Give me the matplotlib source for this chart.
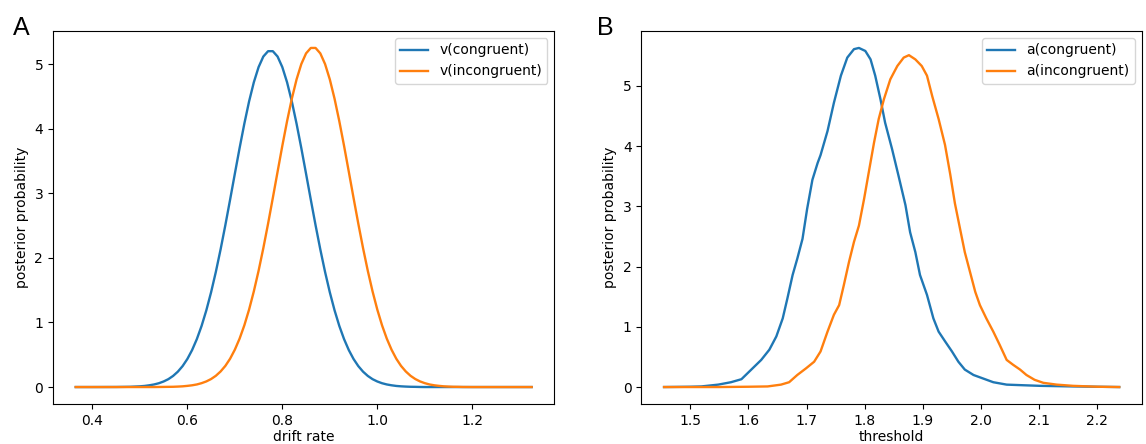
import matplotlib
matplotlib.use('Agg')
import matplotlib.pyplot as plt

# panel A: drift rate posteriors
drift_x = [0.365, 0.40, 0.45, 0.48,
           0.50, 0.51, 0.52, 0.53, 0.54, 0.55, 0.56, 0.57, 0.58, 0.59,
           0.60, 0.61, 0.62, 0.63, 0.64, 0.65, 0.66, 0.67, 0.68, 0.69,
           0.70, 0.71, 0.72, 0.73, 0.74, 0.75, 0.76, 0.77, 0.78, 0.79,
           0.80, 0.81, 0.82, 0.83, 0.84, 0.85, 0.86, 0.87, 0.88, 0.89,
           0.90, 0.91, 0.92, 0.93, 0.94, 0.95, 0.96, 0.97, 0.98, 0.99,
           1.00, 1.01, 1.02, 1.03, 1.04, 1.05, 1.06, 1.07, 1.08, 1.09,
           1.10, 1.11, 1.12, 1.13, 1.14, 1.15, 1.16, 1.17, 1.18,
           1.20, 1.25, 1.325]
v_congruent = [0.0, 0.0, 0.001, 0.004,
               0.011, 0.017, 0.027, 0.040, 0.059, 0.086, 0.122, 0.172, 0.238, 0.324,
               0.434, 0.572, 0.742, 0.946, 1.188, 1.467, 1.782, 2.130, 2.505, 2.899,
               3.301, 3.698, 4.076, 4.421, 4.717, 4.952, 5.116, 5.199, 5.199, 5.116,
               4.952, 4.717, 4.421, 4.076, 3.698, 3.301, 2.899, 2.505, 2.130, 1.782,
               1.467, 1.188, 0.946, 0.742, 0.572, 0.434, 0.324, 0.238, 0.172, 0.122,
               0.086, 0.059, 0.040, 0.027, 0.017, 0.011, 0.007, 0.004, 0.003, 0.001,
               0.0, 0.0, 0.0, 0.0, 0.0, 0.0, 0.0, 0.0, 0.0,
               0.0, 0.0, 0.0]
v_incongruent = [0.0, 0.0, 0.0, 0.0,
                 0.0, 0.0, 0.0, 0.0, 0.001, 0.002, 0.003, 0.004, 0.007, 0.011,
                 0.018, 0.027, 0.040, 0.060, 0.087, 0.124, 0.174, 0.241, 0.327, 0.438,
                 0.578, 0.749, 0.955, 1.199, 1.481, 1.799, 2.150, 2.529, 2.927, 3.332,
                 3.734, 4.115, 4.463, 4.762, 5.000, 5.165, 5.249, 5.249, 5.165, 5.000,
                 4.762, 4.463, 4.115, 3.734, 3.332, 2.927, 2.529, 2.150, 1.799, 1.481,
                 1.199, 0.955, 0.749, 0.578, 0.438, 0.327, 0.241, 0.174, 0.124, 0.087,
                 0.060, 0.040, 0.027, 0.018, 0.011, 0.007, 0.004, 0.003, 0.001,
                 0.0, 0.0, 0.0]

# panel B: threshold posteriors
a_cong_x = [1.455, 1.50, 1.519, 1.548, 1.570, 1.588, 1.605, 1.622, 1.636, 1.648,
            1.659, 1.667, 1.676, 1.684, 1.693, 1.701, 1.710, 1.719, 1.724, 1.736,
            1.747, 1.759, 1.770, 1.7815, 1.790, 1.801, 1.810, 1.818, 1.827, 1.835,
            1.847, 1.858, 1.870, 1.878, 1.887, 1.895, 1.907, 1.918, 1.927, 1.938,
            1.950, 1.961, 1.972, 1.987, 2.004, 2.021, 2.044, 2.072, 2.101, 2.158,
            2.2375]
a_congruent = [0.0, 0.005, 0.01, 0.04, 0.08, 0.13, 0.29, 0.45, 0.62, 0.84,
               1.14, 1.47, 1.86, 2.13, 2.46, 2.96, 3.44, 3.72, 3.85, 4.25,
               4.72, 5.17, 5.47, 5.61, 5.63, 5.58, 5.44, 5.17, 4.78, 4.39,
               3.95, 3.51, 3.02, 2.57, 2.24, 1.86, 1.53, 1.14, 0.92, 0.76,
               0.59, 0.42, 0.29, 0.20, 0.14, 0.08, 0.04, 0.03, 0.02, 0.01,
               0.0]

a_incong_x = [1.455, 1.55, 1.60, 1.633, 1.656, 1.670, 1.684, 1.699, 1.713, 1.724,
              1.736, 1.747, 1.756, 1.764, 1.773, 1.7815, 1.790, 1.799, 1.807, 1.816,
              1.824, 1.833, 1.844, 1.856, 1.867, 1.876, 1.887, 1.898, 1.907, 1.916,
              1.927, 1.938, 1.947, 1.955, 1.964, 1.972, 1.981, 1.990, 1.998, 2.009,
              2.021, 2.032, 2.044, 2.055, 2.067, 2.078, 2.092, 2.107, 2.130, 2.158,
              2.20, 2.2375]
a_incongruent = [0.0, 0.0, 0.005, 0.01, 0.04, 0.08, 0.20, 0.31, 0.42, 0.59,
                 0.92, 1.20, 1.36, 1.69, 2.08, 2.41, 2.68, 3.13, 3.57, 4.06,
                 4.45, 4.78, 5.11, 5.33, 5.47, 5.51, 5.44, 5.33, 5.17, 4.83,
                 4.45, 4.02, 3.53, 3.05, 2.62, 2.24, 1.91, 1.58, 1.36, 1.14,
                 0.92, 0.70, 0.45, 0.37, 0.29, 0.20, 0.12, 0.07, 0.04, 0.02,
                 0.005, 0.0]

fig = plt.figure(figsize=(11.46, 4.44), dpi=100)
axA = fig.add_axes([0.0462, 0.0901, 0.4376, 0.8401])
axB = fig.add_axes([0.5596, 0.0901, 0.4369, 0.8401])

lw = 1.7
axA.plot(drift_x, v_congruent, color='#1f77b4', lw=lw, label='v(congruent)')
axA.plot(drift_x, v_incongruent, color='#ff7f0e', lw=lw, label='v(incongruent)')
axA.set_xlabel('drift rate', labelpad=2)
axA.set_ylabel('posterior probability')
axA.legend(loc='upper right')

axB.plot(a_cong_x, a_congruent, color='#1f77b4', lw=lw, label='a(congruent)')
axB.plot(a_incong_x, a_incongruent, color='#ff7f0e', lw=lw, label='a(incongruent)')
axB.set_xlabel('threshold', labelpad=2)
axB.set_ylabel('posterior probability')
axB.legend(loc='upper right')

# panel letters
fig.text(0.0112, 0.9212, 'A', fontsize=18, family='Liberation Sans', va='baseline')
fig.text(0.5208, 0.9212, 'B', fontsize=18, family='Liberation Sans', va='baseline')

fig.savefig('out.png', dpi=100)
